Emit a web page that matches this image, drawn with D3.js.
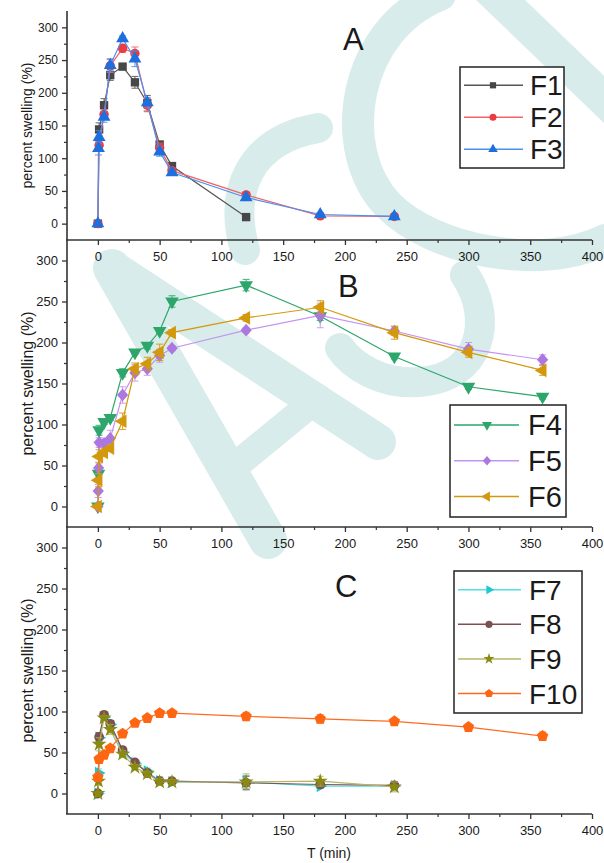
<!DOCTYPE html>
<html><head><meta charset="utf-8">
<script src="https://cdn.jsdelivr.net/npm/d3@7"></script>
<style>body{margin:0;background:#fff}svg{display:block}text{font-family:"Liberation Sans",Arial,sans-serif;fill:#1a1a1a}</style>
</head><body><svg id="c" width="604" height="863"></svg>
<script>
// ---------- data ----------
const xTicks = [0,50,100,150,200,250,300,350,400];
const xMinor = [25,75,125,175,225,275,325,375];
const yTicks = [0,50,100,150,200,250,300];
const yMinor = [25,75,125,175,225,275];

// Panel A
const tF1 = [0,1,5,10,20,30,40,50,60,120];
const vF1 = [0,144,181,227,240,216,184,121,88,10];
const eF1 = [0,10,10,8,3,9,12,4,4,2];
const tF2 = [0,1,5,10,20,30,40,50,60,120,180,240];
const vF2 = [0,120,167,241,268,260,181,116,81,44,12,11];
const eF2 = [0,8,7,10,6,10,10,7,4,4,2,2];
const tF3 = [0,0.5,1,5,10,20,30,40,50,60,120,180,240];
const vF3 = [0,115,132,163,242,283,252,185,110,78,40,14,11];
const eF3 = [0,10,10,8,10,4,12,8,7,4,4,2,2];
// Panel B
const tF4 = [0,0.5,1,5,10,20,30,40,50,60,120,180,240,300,360];
const vF4 = [0,40,93,103,108,163,188,196,214,250,270,232,183,146,134];
const eF4 = [0,5,6,3,3,5,3,4,3,7,7,5,3,3,3];
const tF5 = [0,0.3,0.6,1,5,10,20,30,40,50,60,120,180,240,300,360];
const vF5 = [0,19,47,78,77,83,136,163,168,184,193,215,233,214,192,179];
const eF5 = [0,8,7,6,5,10,10,10,8,8,3,3,15,5,8,6];
const tF6 = [0,0.5,1,5,10,20,30,40,50,60,120,180,240,300,360];
const vF6 = [0,32,61,66,71,104,168,174,188,212,230,243,212,188,166];
const eF6 = [0,8,8,5,4,10,7,8,10,4,4,8,8,6,6];
// Panel C
const tF7 = [0,0.5,1,5,10,20,30,40,50,60,120,180,240];
const vF7 = [0,25,68,93,84,50,37,27,15,14,14,9,9];
const eF7 = [0,5,6,3,4,3,3,4,3,3,8,3,3];
const tF8 = [0,1,5,10,20,30,40,50,60,120,180,240];
const vF8 = [0,69,96,85,53,38,25,15,15,13,11,10];
const eF8 = [0,5,3,4,3,3,3,5,3,8,4,4];
const tF9 = [0,0.5,1,5,10,20,30,40,50,60,120,180,240];
const vF9 = [0,15,60,92,78,48,32,24,14,14,14,15,8];
const eF9 = [0,5,8,3,6,4,3,3,4,3,10,6,6];
const tF10 = [0,1,5,10,20,30,40,50,60,120,180,240,300,360];
const vF10 = [20,42,47,55,73,86,92,98,98,94,91,88,81,70];
const eF10 = [4,4,3,3,3,3,3,3,3,5,5,3,3,5];

// ---------- layout ----------
const svg = d3.select('#c');
const x = d3.scaleLinear().domain([-25,400]).range([67,592]);
const panels = [
  {key:'A', top:11, bottom:240, labelX:343, labelY:50, ylab:14, tick:12},
  {key:'B', top:240, bottom:527, labelX:338, labelY:297, ylab:16, tick:13},
  {key:'C', top:527, bottom:814, labelX:335, labelY:597, ylab:16, tick:13}
];
panels.forEach(p => p.y = d3.scaleLinear().domain([-25,325]).range([p.bottom,p.top]));

// watermark (background decoration)
const wm = svg.append('g').attr('fill','none').attr('stroke','#d8edeb').attr('stroke-linecap','round');
[
  ['M440,-5 C352,30 335,150 388,205 C432,250 540,272 605,240',32],
  ['M485,-15 L615,110',34],
  ['M245,250 C228,190 250,140 318,128',30],
  ['M112,268 L268,540',38],
  ['M112,268 L378,442',36],
  ['M240,462 L318,398',28],
  ['M465,275 C495,320 480,378 420,382 C380,385 352,365 340,348',30]
].forEach(d => wm.append('path').attr('d',d[0]).attr('stroke-width',d[1]));

// axes
const axisCol = '#333';
panels.forEach(p => {
  const gl = svg.append('g').attr('transform','translate(67,0)');
  gl.call(d3.axisLeft(p.y).tickValues(yTicks).tickSize(5).tickPadding(4).tickSizeOuter(0));
  gl.call(g => g.select('.domain').remove());
  gl.selectAll('text').attr('font-size',p.tick).attr('fill','#1a1a1a').attr('font-family','"Liberation Sans",Arial,sans-serif');
  gl.selectAll('line').attr('stroke',axisCol).attr('stroke-width',1.3);
  const gm = svg.append('g').attr('transform','translate(67,0)');
  gm.call(d3.axisLeft(p.y).tickValues(yMinor).tickSize(3).tickFormat(''));
  gm.call(g => g.select('.domain').remove());
  gm.selectAll('line').attr('stroke',axisCol).attr('stroke-width',1.2);

  const gb = svg.append('g').attr('transform',`translate(0,${p.bottom})`);
  gb.call(d3.axisBottom(x).tickValues(xTicks).tickSize(5).tickPadding(7).tickSizeOuter(0));
  gb.call(g => g.select('.domain').remove());
  gb.selectAll('text').attr('font-size',13).attr('fill','#1a1a1a').attr('font-family','"Liberation Sans",Arial,sans-serif');
  gb.selectAll('line').attr('stroke',axisCol).attr('stroke-width',1.3);
  const gbm = svg.append('g').attr('transform',`translate(0,${p.bottom})`);
  gbm.call(d3.axisBottom(x).tickValues(xMinor).tickSize(3).tickFormat(''));
  gbm.call(g => g.select('.domain').remove());
  gbm.selectAll('line').attr('stroke',axisCol).attr('stroke-width',1.2);

  svg.append('line').attr('x1',67).attr('x2',67).attr('y1',p.top).attr('y2',p.bottom)
    .attr('stroke',axisCol).attr('stroke-width',1.6);
  svg.append('line').attr('x1',66).attr('x2',592).attr('y1',p.bottom).attr('y2',p.bottom)
    .attr('stroke',axisCol).attr('stroke-width',1.6);

  svg.append('text').attr('transform',`translate(27,${(p.top+p.bottom)/2}) rotate(-90)`)
    .attr('text-anchor','middle').attr('dominant-baseline','central')
    .attr('font-size',p.ylab).text('percent swelling (%)');
  svg.append('text').attr('x',p.labelX).attr('y',p.labelY).attr('font-size',31).text(p.key);
});
svg.append('text').attr('x',329).attr('y',858).attr('text-anchor','middle').attr('font-size',14).text('T (min)');

// ---------- symbols ----------
const symPentagon = {draw(ctx,size){
  const r = Math.sqrt(size/(2.5*Math.sin(2*Math.PI/5)));
  for(let i=0;i<5;i++){const a=-Math.PI/2+i*2*Math.PI/5; const px=r*Math.cos(a), py=r*Math.sin(a); i?ctx.lineTo(px,py):ctx.moveTo(px,py);}
  ctx.closePath();
}};
const symDiamond = {draw(ctx,size){
  const r = Math.sqrt(size/2);
  ctx.moveTo(0,-r*1.08); ctx.lineTo(r*0.95,0); ctx.lineTo(0,r*1.08); ctx.lineTo(-r*0.95,0); ctx.closePath();
}};

const series = [
  {name:'F1', p:0, t:tF1, v:vF1, e:eF1, sym:d3.symbolSquare, rot:0, size:70, fill:'#474747', line:'#555555'},
  {name:'F2', p:0, t:tF2, v:vF2, e:eF2, sym:d3.symbolCircle, rot:0, size:70, fill:'#ec3b3f', line:'#f26464'},
  {name:'F3', p:0, t:tF3, v:vF3, e:eF3, sym:d3.symbolTriangle, rot:0, size:72, fill:'#1d6fe0', line:'#4d8ff0'},
  {name:'F4', p:1, t:tF4, v:vF4, e:eF4, sym:d3.symbolTriangle, rot:180, size:80, fill:'#2ca66a', line:'#2ca66a'},
  {name:'F5', p:1, t:tF5, v:vF5, e:eF5, sym:symDiamond, rot:0, size:70, fill:'#ad77e0', line:'#c395f0'},
  {name:'F6', p:1, t:tF6, v:vF6, e:eF6, sym:d3.symbolTriangle, rot:-90, size:80, fill:'#d4980c', line:'#d4980c'},
  {name:'F7', p:2, t:tF7, v:vF7, e:eF7, sym:d3.symbolTriangle, rot:90, size:65, fill:'#1cc9cc', line:'#55e0e2'},
  {name:'F8', p:2, t:tF8, v:vF8, e:eF8, sym:d3.symbolCircle, rot:0, size:75, fill:'#7d5050', line:'#7d5050'},
  {name:'F9', p:2, t:tF9, v:vF9, e:eF9, sym:d3.symbolStar, rot:0, size:70, fill:'#8a8a10', line:'#b5b56c'},
  {name:'F10', p:2, t:tF10, v:vF10, e:eF10, sym:symPentagon, rot:0, size:85, fill:'#ff6612', line:'#ff6a20'}
];

series.forEach(s => {
  const y = panels[s.p].y;
  const pts = s.t.map((t,i) => ({t, v:s.v[i], e:s.e[i]}));
  const g = svg.append('g');
  g.append('path').datum(pts)
    .attr('d', d3.line().x(d=>x(d.t)).y(d=>y(d.v)))
    .attr('fill','none').attr('stroke',s.line).attr('stroke-width',1.2);
  const eb = g.append('g').attr('stroke',s.line).attr('stroke-width',1).attr('opacity',0.9);
  pts.filter(d=>d.e>0).forEach(d => {
    const cx = x(d.t), y1 = y(d.v-d.e), y2 = y(d.v+d.e);
    eb.append('line').attr('x1',cx).attr('x2',cx).attr('y1',y1).attr('y2',y2);
    eb.append('line').attr('x1',cx-3.5).attr('x2',cx+3.5).attr('y1',y1).attr('y2',y1);
    eb.append('line').attr('x1',cx-3.5).attr('x2',cx+3.5).attr('y1',y2).attr('y2',y2);
  });
  g.selectAll('path.m').data(pts).join('path').attr('class','m')
    .attr('d', d3.symbol().type(s.sym).size(s.size))
    .attr('transform', d=>`translate(${x(d.t)},${y(d.v)}) rotate(${s.rot})`)
    .attr('fill', s.fill);
});

// ---------- legends ----------
const legends = [
  {box:[460,67,104,101], items:['F1','F2','F3'], y0:85.3, dy:32, lx:[464,523], mx:493, tx:530, fs:28},
  {box:[450,405,116,112], items:['F4','F5','F6'], y0:425, dy:35.8, lx:[454,519], mx:487, tx:528, fs:29},
  {box:[454,571,128,142], items:['F7','F8','F9','F10'], y0:589.7, dy:34.6, lx:[458,521], mx:489, tx:529, fs:28}
];
legends.forEach(L => {
  svg.append('rect').attr('x',L.box[0]).attr('y',L.box[1]).attr('width',L.box[2]).attr('height',L.box[3])
    .attr('fill','#fff').attr('stroke','#222').attr('stroke-width',1.5);
  L.items.forEach((name,i) => {
    const s = series.find(d=>d.name===name);
    const yy = L.y0 + i*L.dy;
    svg.append('line').attr('x1',L.lx[0]).attr('x2',L.lx[1]).attr('y1',yy).attr('y2',yy)
      .attr('stroke',s.line).attr('stroke-width',1.5);
    svg.append('path').attr('d',d3.symbol().type(s.sym).size(s.size*0.55)())
      .attr('transform',`translate(${L.mx},${yy}) rotate(${s.rot})`).attr('fill',s.fill);
    svg.append('text').attr('x',L.tx).attr('y',yy+10).attr('font-size',L.fs).text(name);
  });
});
</script></body></html>
